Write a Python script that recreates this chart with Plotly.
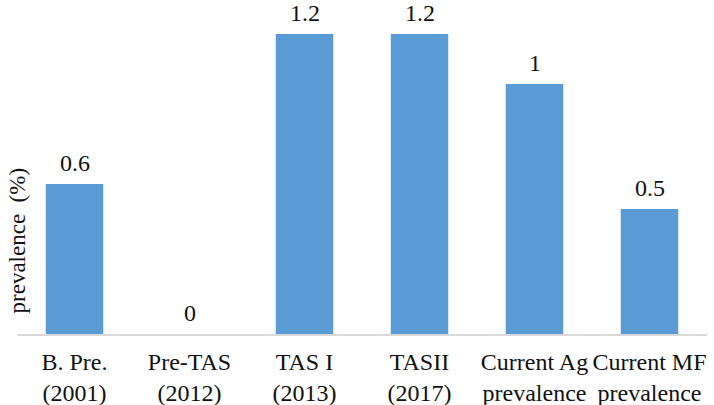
import plotly.graph_objects as go

categories = ["B. Pre.<br>(2001)", "Pre-TAS<br>(2012)", "TAS I<br>(2013)",
              "TASII<br>(2017)", "Current Ag<br>prevalence", "Current MF<br>prevalence"]
values = [0.6, 0, 1.2, 1.2, 1, 0.5]
value_labels = ["0.6", "0", "1.2", "1.2", "1", "0.5"]
y_title = "prevalence  (%)"

FONT = "Liberation Serif"
TXT = "#111111"

fig = go.Figure()
fig.add_trace(go.Bar(x=categories, y=values, marker=dict(color="#5b9bd5", line=dict(width=0)),
                     hoverinfo="skip"))

for c, v, t in zip(categories, values, value_labels):
    fig.add_annotation(x=c, y=v, text=t, showarrow=False, yanchor="middle", yshift=21,
                       font=dict(family=FONT, size=24, color=TXT))

fig.add_annotation(xref="paper", yref="paper", x=0.0, y=0.28, text=y_title,
                   textangle=-90, showarrow=False, xanchor="center", yanchor="middle",
                   font=dict(family=FONT, size=23, color=TXT))

fig.update_layout(
    width=714, height=405,
    margin=dict(l=17, r=7, t=0, b=71, autoexpand=False),
    plot_bgcolor="white", paper_bgcolor="white",
    bargap=0.5, showlegend=False,
    font=dict(family=FONT, size=24, color=TXT),
)
fig.update_xaxes(showline=True, linecolor="#d9d9d9", linewidth=1.5, ticks="",
                 ticklabelstandoff=5, automargin=False,
                 tickfont=dict(family=FONT, size=24, color=TXT), range=[-0.5, 5.5])
fig.update_yaxes(range=[0, 1.2 * 334 / 300], showgrid=False, showticklabels=False,
                 zeroline=False, showline=False, ticks="", automargin=False)

fig.write_html("out.html")
